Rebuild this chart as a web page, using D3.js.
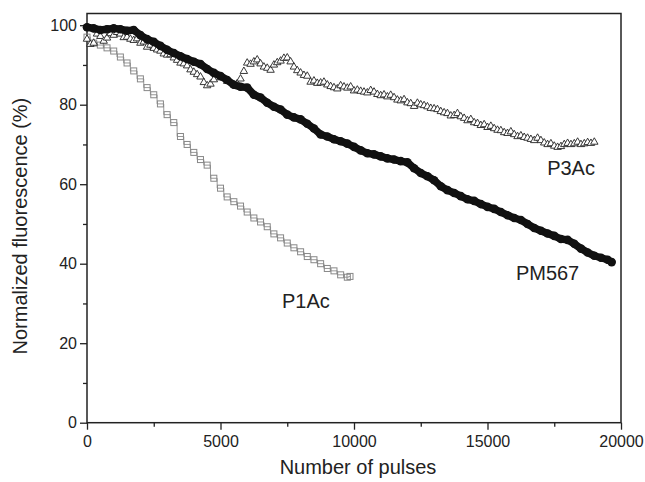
<!DOCTYPE html>
<html><head><meta charset="utf-8">
<script src="https://cdn.jsdelivr.net/npm/d3@7"></script>
<style>
html,body{margin:0;padding:0;background:#fff;}
svg{display:block;font-family:"Liberation Sans",Arial,Helvetica,sans-serif;}
</style></head>
<body>
<svg id="chart" width="645" height="482"></svg>
<script>
// ---- data ----
const xTickValues = [0, 5000, 10000, 15000, 20000];
const yTickValues = [0, 20, 40, 60, 80, 100];

const pm567X = [0,250,500,750,1000,1250,1500,1750,2000,2250,2500,2750,3000,3250,3500,3750,4000,4250,4500,4750,5000,5250,5500,5750,6000,6250,6500,6750,7000,7250,7500,7750,8000,8250,8500,8750,9000,9250,9500,9750,10000,10250,10500,10750,11000,11250,11500,11750,12000,12250,12500,12750,13000,13250,13500,13750,14000,14250,14500,14750,15000,15250,15500,15750,16000,16250,16500,16750,17000,17250,17500,17750,18000,18250,18500,18750,19000,19250,19500,19650];
const pm567Y = [99.5,99.2,98.8,99.0,99.2,99.0,98.6,98.8,97.5,96.5,95.8,94.8,93.8,93.0,92.2,91.5,90.8,90.2,89.0,88.0,87.2,86.2,85.0,84.5,84.3,82.5,81.8,80.5,79.5,78.8,77.5,76.8,76.3,75.2,74.0,72.5,72.0,71.3,70.8,70.2,69.4,68.5,67.8,67.5,67.0,66.5,66.2,65.8,65.5,64.0,62.8,62.0,61.0,59.5,58.5,57.8,57.0,56.2,55.8,55.0,54.3,53.8,53.0,52.2,51.5,51.0,50.0,49.0,48.3,47.6,47.0,46.2,46.0,45.0,43.8,42.8,42.0,41.5,41.0,40.4];

const p3acX = [0,125,250,375,500,625,750,875,1000,1125,1250,1375,1500,1625,1750,1875,2000,2125,2250,2375,2500,2625,2750,2875,3000,3125,3250,3375,3500,3625,3750,3875,4000,4125,4250,4375,4500,4625,4750,5000,5250,5500,5625,5750,5875,6000,6125,6250,6375,6500,6625,6750,6875,7000,7125,7250,7375,7500,7625,7750,7875,8000,8125,8250,8375,8500,8625,8750,8875,9000,9125,9250,9375,9500,9625,9750,9875,10000,10125,10250,10375,10500,10625,10750,10875,11000,11125,11250,11375,11500,11625,11750,11875,12000,12125,12250,12375,12500,12625,12750,12875,13000,13125,13250,13375,13500,13625,13750,13875,14000,14125,14250,14375,14500,14625,14750,14875,15000,15125,15250,15375,15500,15625,15750,15875,16000,16125,16250,16375,16500,16625,16750,16875,17000,17125,17250,17375,17500,17625,17750,17875,18000,18125,18250,18375,18500,18625,18750,18875,19000];
const p3acY = [96.5,95.2,95.5,97.8,97.2,96.0,96.8,97.9,97.5,98.2,97.8,96.9,97.0,96.5,96.2,96.6,95.5,95.8,94.5,95.0,94.2,93.8,93.5,92.8,92.5,92.6,91.8,91.2,90.5,90.3,89.8,88.8,88.2,87.6,87.0,85.6,84.8,85.2,86.3,86.8,85.9,85.0,85.3,86.5,88.4,90.5,90.2,90.8,91.3,90.3,89.5,89.2,88.7,90.0,90.6,91.0,91.7,91.8,90.8,89.5,88.6,88.0,87.4,87.2,85.7,86.0,85.4,85.5,85.7,85.0,84.6,84.3,84.0,84.8,84.5,84.2,84.5,83.5,83.7,83.4,83.2,83.0,83.6,83.2,82.6,82.3,82.5,82.0,82.4,81.8,81.2,81.0,81.3,80.5,80.3,79.6,80.4,80.0,79.8,79.5,79.1,79.0,78.8,78.3,78.0,77.8,77.2,77.3,77.8,77.0,76.6,76.0,76.3,75.5,75.3,74.8,75.0,74.3,74.6,74.0,73.6,73.5,73.0,72.8,73.2,72.5,72.0,72.2,71.8,71.6,71.3,71.0,71.6,71.0,70.4,70.0,70.2,69.6,69.3,69.5,70.0,70.3,70.0,70.2,70.6,70.0,70.2,70.5,70.3,70.6];

const p1acX = [0,250,500,750,1000,1250,1500,1750,2000,2250,2500,2750,3000,3250,3500,3750,4000,4250,4500,4750,5000,5250,5500,5750,6000,6250,6500,6750,7000,7250,7500,7750,8000,8250,8500,8750,9000,9250,9500,9750,9850];
const p1acY = [97.0,95.5,95.0,94.3,93.5,92.0,90.5,88.5,86.5,84.3,82.5,80.2,77.5,75.5,72.0,70.0,68.0,66.2,64.8,61.5,59.0,56.8,55.6,54.5,53.0,51.5,50.5,49.3,47.5,46.5,45.2,44.0,43.0,41.8,41.0,40.0,38.8,38.2,37.2,36.6,36.8];

const seriesLabels = [
  {text: "P3Ac", x: 18130, y: 62.3},
  {text: "PM567", x: 17250, y: 35.9},
  {text: "P1Ac", x: 8200, y: 28.8}
];
const xTitle = "Number of pulses";
const yTitle = "Normalized fluorescence (%)";

// ---- layout ----
const svg = d3.select("#chart");
const L = 87, R = 621, T = 13.5, B = 422.7;
const x = d3.scaleLinear().domain([0, 20000]).range([L, R]);
const y = d3.scaleLinear().domain([0, 100]).range([B, 25.2]);

const zip = (xs, ys) => xs.map((v, i) => [v, ys[i]]);
const pm567 = zip(pm567X, pm567Y);
const p3ac = zip(p3acX, p3acY);
const p1ac = zip(p1acX, p1acY);

// frame
svg.append("rect").attr("x", L).attr("y", T).attr("width", R - L).attr("height", B - T)
  .attr("fill", "none").attr("stroke", "#222").attr("stroke-width", 1.5);

// axes
const xAxis = d3.axisBottom(x).tickValues(xTickValues).tickFormat(d3.format("d")).tickSize(7).tickPadding(6);
const gx = svg.append("g").attr("transform", `translate(0,${B})`).call(xAxis);
const xMinor = d3.axisBottom(x).tickValues(d3.range(2500, 20000, 5000)).tickSize(4).tickFormat("");
svg.append("g").attr("transform", `translate(0,${B})`).call(xMinor);

const yAxis = d3.axisLeft(y).tickValues(yTickValues).tickSize(7).tickPadding(3);
svg.append("g").attr("transform", `translate(${L},0)`).call(yAxis);
const yMinor = d3.axisLeft(y).tickValues(d3.range(10, 100, 20)).tickSize(4).tickFormat("");
svg.append("g").attr("transform", `translate(${L},0)`).call(yMinor);

svg.selectAll(".domain").remove();
svg.selectAll(".tick line").attr("stroke", "#222").attr("stroke-width", 1.3);
svg.selectAll(".tick text").attr("font-size", 16).attr("fill", "#222")
  .attr("font-family", "'Liberation Sans', Arial, sans-serif");

// axis titles
svg.append("text").attr("x", (L + R) / 2 + 4).attr("y", 474).attr("text-anchor", "middle")
  .attr("font-size", 20).attr("fill", "#222").text(xTitle);
svg.append("text").attr("transform", `translate(27,${(T + B) / 2 + 8}) rotate(-90)`).attr("text-anchor", "middle")
  .attr("font-size", 20).attr("fill", "#222").text(yTitle);

// P1Ac: gray squares with step line
svg.append("path").datum(p1ac)
  .attr("d", d3.line().x(d => x(d[0])).y(d => y(d[1])).curve(d3.curveStep))
  .attr("fill", "none").attr("stroke", "#999").attr("stroke-width", 1);
svg.append("g").selectAll("rect").data(p1ac).join("rect")
  .attr("x", d => x(d[0]) - 3).attr("y", d => y(d[1]) - 3).attr("width", 6).attr("height", 6)
  .attr("fill", "none").attr("stroke", "#888").attr("stroke-width", 1);

// P3Ac: open triangles
const tri = d3.symbol().type(d3.symbolTriangle).size(24);
svg.append("g").selectAll("path").data(p3ac).join("path")
  .attr("d", tri).attr("transform", d => `translate(${x(d[0])},${y(d[1])})`)
  .attr("fill", "#fff").attr("stroke", "#222").attr("stroke-width", 0.9);

// PM567: dense filled circles (band)
svg.append("path").datum(pm567)
  .attr("d", d3.line().x(d => x(d[0])).y(d => y(d[1])))
  .attr("fill", "none").attr("stroke", "#111").attr("stroke-width", 7.5)
  .attr("stroke-linejoin", "round").attr("stroke-linecap", "round");
svg.append("g").selectAll("circle").data(pm567).join("circle")
  .attr("cx", d => x(d[0])).attr("cy", d => y(d[1])).attr("r", 4.3)
  .attr("fill", "#111");

// series labels
svg.append("g").selectAll("text").data(seriesLabels).join("text")
  .attr("x", d => x(d.x)).attr("y", d => y(d.y)).attr("text-anchor", "middle")
  .attr("font-size", 20).attr("fill", "#222").text(d => d.text);
</script>
</body></html>
